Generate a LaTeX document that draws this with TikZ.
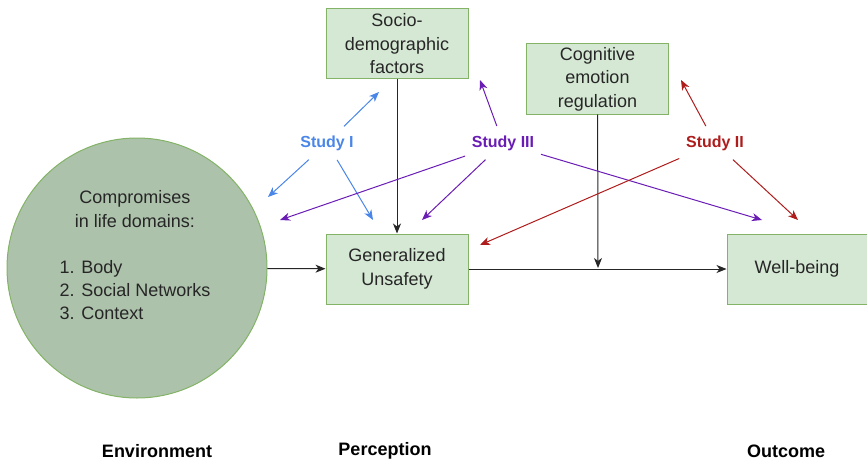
\documentclass[tikz,border=0pt]{standalone}
\usepackage{fontspec}
\setmainfont{Liberation Sans}
\usetikzlibrary{arrows.meta,positioning}
\definecolor{BoxFill}{HTML}{D5E8D4}
\definecolor{BoxLine}{HTML}{82B366}
\definecolor{DomainFill}{HTML}{ADC2AB}
\definecolor{StudyBlue}{HTML}{4A86E8}
\definecolor{StudyPurple}{HTML}{6A1DB5}
\definecolor{StudyRed}{HTML}{AE1C1C}
\definecolor{InkGray}{HTML}{262626}

\begin{document}
\begin{tikzpicture}[
  x=0.75pt,
  y=-0.75pt,
  >={Stealth[length=7.5pt,width=6pt,inset=2.2pt]},
  factor/.style={rectangle,draw=BoxLine,fill=BoxFill,line width=0.75pt,minimum width=106.5pt,minimum height=52.5pt,inner sep=2pt,align=center,text=InkGray,font=\fontsize{13.5}{17.6}\selectfont},
  lifecircle/.style={circle,draw=BoxLine,fill=DomainFill,line width=0.75pt,minimum size=195pt,inner sep=0pt},
  study/.style={font=\fontsize{12}{14}\bfseries,inner xsep=4pt,inner ysep=6pt},
  link/.style={->,draw=InkGray,line width=0.75pt},
  study link/.style={->,line width=0.75pt,shorten <=1pt},
  stage/.style={font=\fontsize{13.5}{16}\bfseries,text=black}
]
  \useasboundingbox (0,0) rectangle (867,460);

  % environment
  \node[lifecircle] (env) at (137,268) {};
  \node[align=left,text=InkGray,font=\fontsize{13.5}{17.3}\selectfont] (envtext) at (135,257)
    {\begin{tabular}{@{}l@{}}\multicolumn{1}{@{}c@{}}{Compromises}\\\multicolumn{1}{@{}c@{}}{in life domains:}\\[17.3pt]
     1. Body\\2. Social Networks\\3. Context\end{tabular}};

  % factors
  \node[factor] (socio) at (397,44) {Socio-\\demographic\\factors};
  \node[factor] (cog) at (597.5,79) {Cognitive\\emotion\\regulation};
  \node[factor] (unsafe) at (397,269) {Generalized\\Unsafety};
  \node[factor,minimum width=105pt] (well) at (797,269) {Well-being};
  \coordinate (join) at (598,268);

  \draw[link] (env) -- (unsafe);
  \draw[link] (socio) -- (unsafe);
  \draw[link] (unsafe) -- (well);
  \draw[link] (cog) -- (join);

  % studies
  \node[study,text=StudyBlue] (s1) at (327,143) {Study I};
  \node[study,text=StudyPurple] (s3) at (503,143) {Study III};
  \node[study,text=StudyRed] (s2) at (715,143) {Study II};

  \coordinate (s1a) at (379,92);
  \coordinate (s1b) at (268,197);
  \coordinate (s1c) at (373,220);
  \coordinate (s3a) at (480,80);
  \coordinate (s3b) at (280,220);
  \coordinate (s3c) at (422,220);
  \coordinate (s3d) at (762,220);
  \coordinate (s2a) at (681,80);
  \coordinate (s2b) at (798,220);
  \coordinate (s2c) at (480,245);

  \foreach \t in {s1a,s1b,s1c} \draw[study link,StudyBlue] (s1) -- (\t);
  \foreach \t in {s3a,s3b,s3c,s3d} \draw[study link,StudyPurple] (s3) -- (\t);
  \foreach \t in {s2a,s2b,s2c} \draw[study link,StudyRed] (s2) -- (\t);

  % stages
  \node[stage] (envlabel) at (157,451) {Environment};
  \node[stage] (perclabel) at (385,451) {Perception};
  \node[stage] (outlabel) at (786,451) {Outcome};
\end{tikzpicture}
\end{document}
